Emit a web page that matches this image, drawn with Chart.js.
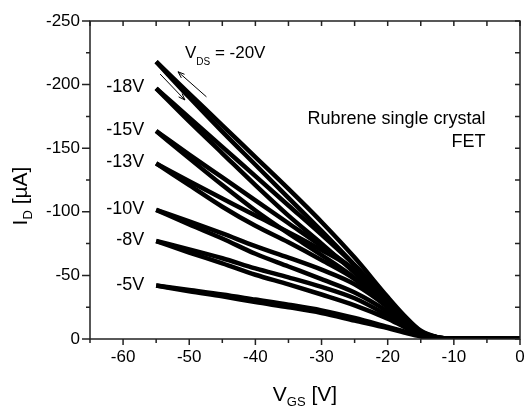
<!DOCTYPE html>
<html>
<head>
<meta charset="utf-8">
<script src="https://cdn.jsdelivr.net/npm/chart.js@4.4.1/dist/chart.umd.min.js"></script>
<style>
  html, body { margin: 0; padding: 0; background: #fff; }
  #wrap { width: 527px; height: 412px; }
</style>
</head>
<body>
<div id="wrap"><canvas id="chart" width="527" height="412"></canvas></div>
<script>
// gate voltage steps (V)
const vgs = [-55, -50, -45, -40, -35, -30, -25, -20, -17.5, -15, -12.5, -10, -5, 0];

// drain current (uA), forward and reverse sweep for each V_DS
const id20f = [-218, -193, -168, -143, -118, -92, -64, -33, -18.5, -6.5, -1.5, -0.3, -0.1, 0];
const id20r = [-218, -190, -163, -137, -111, -85, -58, -29, -16, -5.5, -1.2, -0.2, -0.1, 0];
const id18f = [-197, -174, -151, -128, -105, -82, -58, -31, -17.5, -6, -1.4, -0.3, -0.1, 0];
const id18r = [-197, -171, -146, -121, -97, -75, -52, -27, -15, -5, -1.1, -0.2, -0.1, 0];
const id15f = [-163.5, -145, -127, -109, -91, -73, -54, -29, -16.5, -5.5, -1.3, -0.3, -0.1, 0];
const id15r = [-163.5, -142, -121, -101, -83, -66, -48, -26, -14.5, -5, -1, -0.2, -0.1, 0];
const id13f = [-138, -124, -110.5, -97, -84, -70, -54, -28, -15.5, -5.2, -1.2, -0.3, -0.1, 0];
const id13r = [-138, -121, -104, -89, -76, -62, -47, -25, -14, -4.8, -1, -0.2, -0.1, 0];
const id10f = [-101.5, -92.5, -83, -73, -64, -54.5, -43, -25, -13.5, -4.8, -1.1, -0.2, -0.1, 0];
const id10r = [-101.5, -90, -79, -67, -57, -47, -36.5, -21.5, -12, -4.3, -1, -0.2, -0.1, 0];
const id8f = [-77, -70.5, -63.5, -55.5, -48.5, -41, -32, -18.5, -11, -4, -1, -0.2, -0.1, 0];
const id8r = [-77, -68, -59.5, -50.5, -43, -35, -26.5, -16, -9.5, -3.5, -0.8, -0.2, -0.1, 0];
const id5f = [-42, -38.5, -35, -31, -27, -22.5, -16.5, -9.5, -6, -2.5, -0.8, -0.2, -0.1, 0];
const id5r = [-42, -37.5, -33.5, -29, -25, -20.5, -14.5, -8.5, -5, -2, -0.6, -0.2, -0.1, 0];

const vdsLabels = ['-20V', '-18V', '-15V', '-13V', '-10V', '-8V', '-5V'];
const sweeps = [[id20f, id20r], [id18f, id18r], [id15f, id15r], [id13f, id13r],
                [id10f, id10r], [id8f, id8r], [id5f, id5r]];

const xTicks = [-60, -50, -40, -30, -20, -10, 0];
const xMinor = [-65, -55, -45, -35, -25, -15, -5];
const yTicks = [0, -50, -100, -150, -200, -250];
const yMinor = [-25, -75, -125, -175, -225];

const FONT = "'Liberation Sans', Arial, sans-serif";

const datasets = [];
sweeps.forEach((pair, k) => {
    pair.forEach(arr => {
        datasets.push({
            label: vdsLabels[k],
            data: vgs.map((v, i) => ({ x: v, y: arr[i] })),
            borderColor: '#000',
            backgroundColor: '#000',
            borderWidth: 4.5,
            pointRadius: 0,
            cubicInterpolationMode: 'monotone',
            fill: false
        });
    });
});

// draw text made of pieces (for subscripts)
function drawPieces(ctx, pieces, x, y, align) {
    let total = 0;
    pieces.forEach(p => { ctx.font = p.size + 'px ' + FONT; total += ctx.measureText(p.t).width; });
    let cx = align === 'center' ? x - total / 2 : (align === 'right' ? x - total : x);
    ctx.textAlign = 'left';
    ctx.textBaseline = 'alphabetic';
    pieces.forEach(p => {
        ctx.font = p.size + 'px ' + FONT;
        ctx.fillText(p.t, cx, y + (p.dy || 0));
        cx += ctx.measureText(p.t).width;
    });
}

function arrow(ctx, x1, y1, x2, y2) {
    const ang = Math.atan2(y2 - y1, x2 - x1);
    const h = 7;
    ctx.beginPath();
    ctx.moveTo(x1, y1);
    ctx.lineTo(x2, y2);
    ctx.moveTo(x2, y2);
    ctx.lineTo(x2 - h * Math.cos(ang - 0.35), y2 - h * Math.sin(ang - 0.35));
    ctx.moveTo(x2, y2);
    ctx.lineTo(x2 - h * Math.cos(ang + 0.35), y2 - h * Math.sin(ang + 0.35));
    ctx.stroke();
}

const extras = {
    id: 'extras',
    afterDraw(chart) {
        const { ctx, chartArea: a, scales: { x, y } } = chart;
        ctx.save();
        ctx.strokeStyle = '#222';
        ctx.lineWidth = 1.5;
        ctx.strokeRect(a.left, a.top, a.right - a.left, a.bottom - a.top);

        ctx.beginPath();
        xTicks.forEach(v => {
            const p = x.getPixelForValue(v);
            ctx.moveTo(p, a.bottom); ctx.lineTo(p, a.bottom + 6);
            ctx.moveTo(p, a.top); ctx.lineTo(p, a.top + 5);
        });
        xMinor.forEach(v => {
            const p = x.getPixelForValue(v);
            ctx.moveTo(p, a.bottom); ctx.lineTo(p, a.bottom + 4);
            ctx.moveTo(p, a.top); ctx.lineTo(p, a.top + 5);
        });
        yTicks.forEach(v => {
            const p = y.getPixelForValue(v);
            ctx.moveTo(a.left - 8, p); ctx.lineTo(a.left, p);
            ctx.moveTo(a.right - 5, p); ctx.lineTo(a.right, p);
        });
        yMinor.forEach(v => {
            const p = y.getPixelForValue(v);
            ctx.moveTo(a.left - 4, p); ctx.lineTo(a.left, p);
            ctx.moveTo(a.right - 5, p); ctx.lineTo(a.right, p);
        });
        ctx.stroke();

        ctx.fillStyle = '#000';
        // V_DS labels at the start of each curve
        ctx.font = '18px ' + FONT;
        ctx.textAlign = 'right';
        ctx.textBaseline = 'middle';
        const x0 = x.getPixelForValue(vgs[0]);
        vdsLabels.forEach((lab, k) => {
            if (k === 0) return;
            ctx.fillText(lab, x0 - 12, y.getPixelForValue(sweeps[k][0][0]) - 1);
        });
        drawPieces(ctx, [{ t: 'V', size: 17 }, { t: 'DS', size: 10, dy: 7 }, { t: ' = -20V', size: 17 }],
            x.getPixelForValue(-50.65), y.getPixelForValue(-220.6), 'left');

        ctx.font = '18px ' + FONT;
        ctx.textAlign = 'right';
        ctx.textBaseline = 'alphabetic';
        ctx.fillText('Rubrene single crystal', x.getPixelForValue(-5.2), y.getPixelForValue(-168.8));
        ctx.fillText('FET', x.getPixelForValue(-5.2), y.getPixelForValue(-151.2));

        // sweep direction arrows
        ctx.strokeStyle = '#000';
        ctx.lineWidth = 1;
        arrow(ctx, x.getPixelForValue(-54.4), y.getPixelForValue(-208.3), x.getPixelForValue(-50.65), y.getPixelForValue(-187.9));
        arrow(ctx, x.getPixelForValue(-47.4), y.getPixelForValue(-190.4), x.getPixelForValue(-51.7), y.getPixelForValue(-210.1));

        // axis titles
        drawPieces(ctx, [{ t: 'V', size: 21 }, { t: 'GS', size: 13, dy: 5 }, { t: ' [V]', size: 21 }],
            (a.left + a.right) / 2, 401, 'center');
        ctx.translate(27, 196);
        ctx.rotate(-Math.PI / 2);
        drawPieces(ctx, [{ t: 'I', size: 21 }, { t: 'D', size: 13, dy: 5 }, { t: ' [\u00b5A]', size: 21 }], 0, 0, 'center');
        ctx.restore();
    }
};

new Chart(document.getElementById('chart'), {
    type: 'line',
    data: { datasets },
    plugins: [extras],
    options: {
        responsive: false,
        animation: false,
        layout: { padding: { top: 21, right: 7, left: 0, bottom: 0 } },
        plugins: { legend: { display: false }, tooltip: { enabled: false } },
        scales: {
            x: {
                type: 'linear',
                min: -65,
                max: 0,
                afterBuildTicks: s => { s.ticks = xTicks.map(v => ({ value: v })); },
                afterFit: s => { s.height = 73; s.paddingLeft = 0; s.paddingRight = 0; },
                grid: { display: false, drawTicks: false },
                border: { display: false },
                ticks: { color: '#000', font: { family: FONT, size: 17 }, padding: 8, maxRotation: 0 }
            },
            y: {
                type: 'linear',
                min: -250,
                max: 0,
                reverse: true,
                afterBuildTicks: s => { s.ticks = yTicks.map(v => ({ value: v })); },
                afterFit: s => { s.width = 90; s.paddingTop = 0; s.paddingBottom = 0; },
                grid: { display: false, drawTicks: false },
                border: { display: false },
                ticks: { color: '#000', font: { family: FONT, size: 17 }, padding: 10 }
            }
        }
    }
});
</script>
</body>
</html>
